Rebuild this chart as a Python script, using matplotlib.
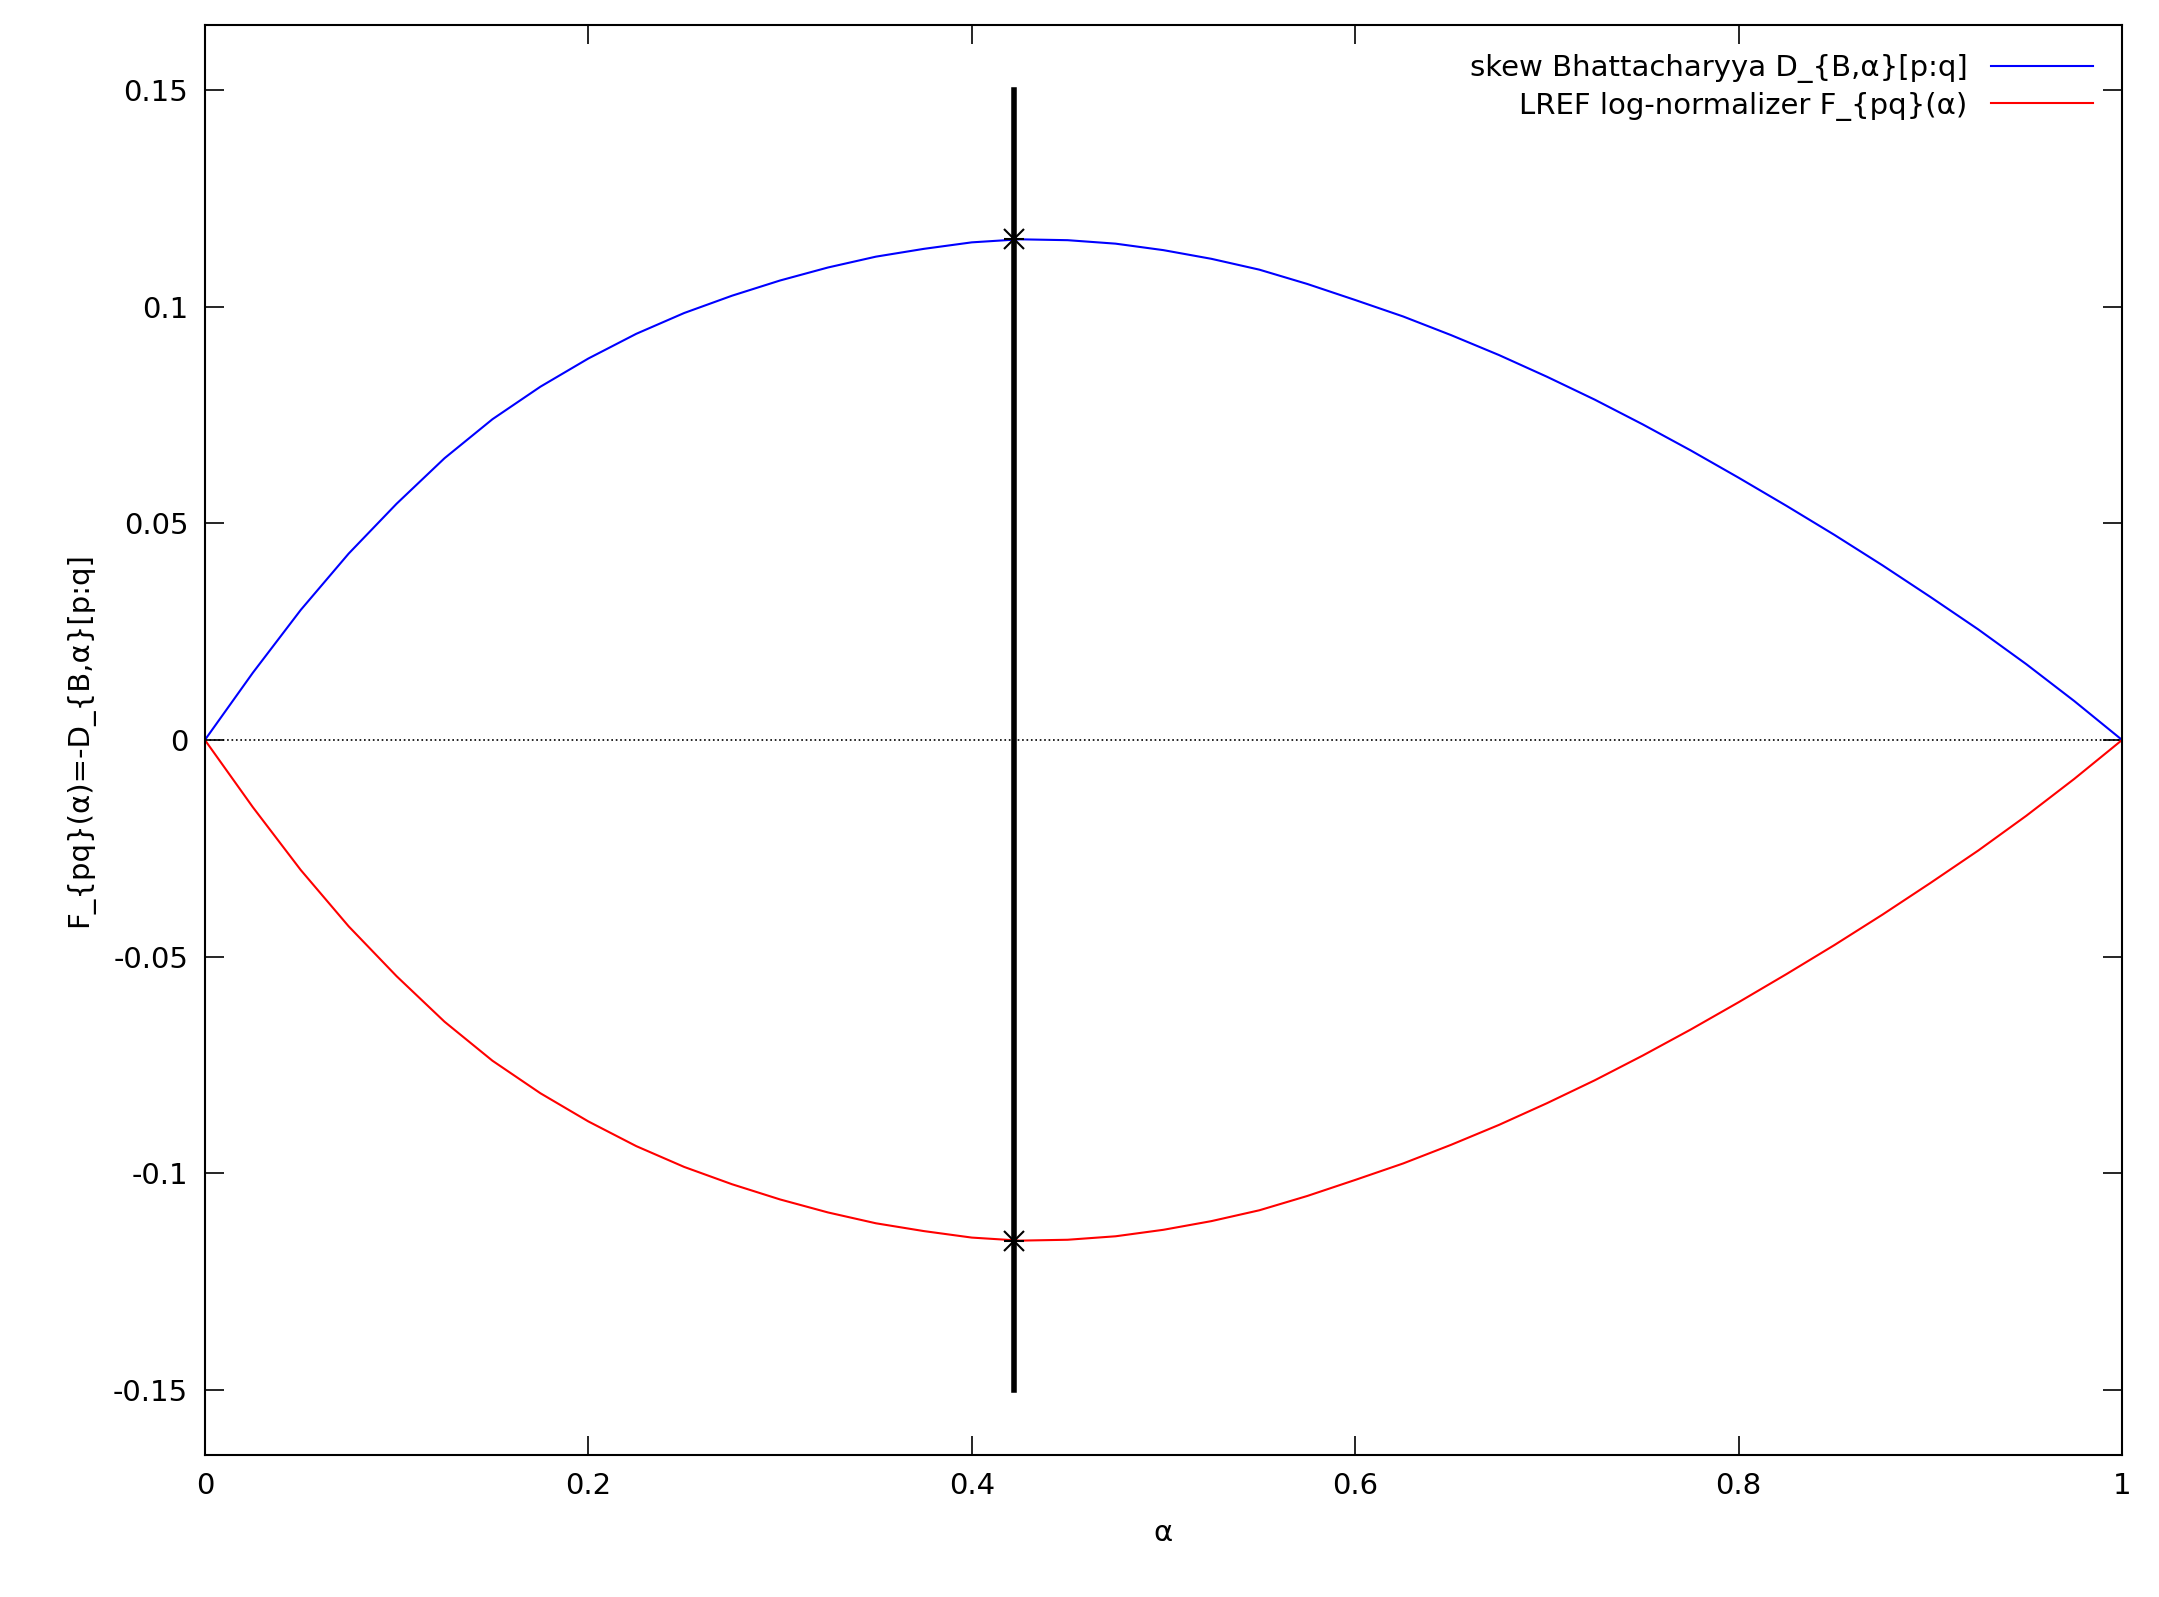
import matplotlib
matplotlib.use("Agg")
import matplotlib.pyplot as plt

alpha = [0, 0.025, 0.05, 0.075, 0.1, 0.125, 0.15, 0.175, 0.2, 0.225, 0.25, 0.275, 0.3, 0.325, 0.35, 0.375,
         0.4, 0.425, 0.45, 0.475, 0.5, 0.525, 0.55, 0.575, 0.6, 0.625, 0.65, 0.675, 0.7, 0.725, 0.75, 0.775,
         0.8, 0.825, 0.85, 0.875, 0.9, 0.925, 0.95, 0.975, 1.0]
bhatt = [0, 0.0155, 0.0300, 0.0430, 0.0545, 0.0650, 0.0740, 0.0815, 0.0880, 0.0937, 0.0985, 0.1025, 0.1060,
         0.1090, 0.1115, 0.1133, 0.1148, 0.1155, 0.1153, 0.1145, 0.1130, 0.1110, 0.1085, 0.1052, 0.1015,
         0.0977, 0.0934, 0.0888, 0.0838, 0.0785, 0.0728, 0.0668, 0.0605, 0.0540, 0.0473, 0.0403, 0.0330,
         0.0255, 0.0175, 0.0090, 0]
lref = [-v for v in bhatt]
alpha_star = 0.422
val_star = 0.1155

plt.rcParams['font.family'] = ['DejaVu Sans']
fig = plt.figure(figsize=(21.59, 15.97), dpi=100)
ax = fig.add_axes([0.0949, 0.0888, 0.888, 0.8957])
ax.plot(alpha, bhatt, color='#0000ff', lw=1.5, label='skew Bhattacharyya D_{B,α}[p:q]')
ax.plot(alpha, lref, color='#ff0000', lw=1.5, label='LREF log-normalizer F_{pq}(α)')
ax.axhline(0, color='black', lw=1.2, ls=':')
ax.plot([alpha_star, alpha_star], [-0.15, 0.15], color='black', lw=4)
ax.plot([alpha_star, alpha_star], [val_star, -val_star], ls='none', marker='x', ms=14, mew=1.5, color='black')
ax.plot([alpha_star, alpha_star], [val_star, -val_star], ls='none', marker='+', ms=14, mew=1.5, color='black')
ax.set_xlim(0, 1)
ax.set_ylim(-0.165, 0.165)
ax.set_xticks([0, 0.2, 0.4, 0.6, 0.8, 1])
ax.set_xticklabels(['0', '0.2', '0.4', '0.6', '0.8', '1'])
ax.set_yticks([-0.15, -0.1, -0.05, 0, 0.05, 0.1, 0.15])
ax.set_yticklabels(['-0.15', '-0.1', '-0.05', '0', '0.05', '0.1', '0.15'])
ax.tick_params(direction='in', top=True, right=True, length=14, width=1.2, labelsize=21, pad=12)
for s in ax.spines.values():
    s.set_linewidth(1.5)
ax.set_xlabel('α', fontsize=21, labelpad=14)
ax.set_ylabel('F_{pq}(α)=-D_{B,α}[p:q]', fontsize=21, labelpad=14)
leg = ax.legend(loc='upper right', frameon=False, fontsize=21, markerfirst=False, handlelength=3.5, borderaxespad=0.6, labelspacing=0.3)
for t in leg.get_texts():
    t.set_ha('right')
fig.savefig('out.png', dpi=100)
